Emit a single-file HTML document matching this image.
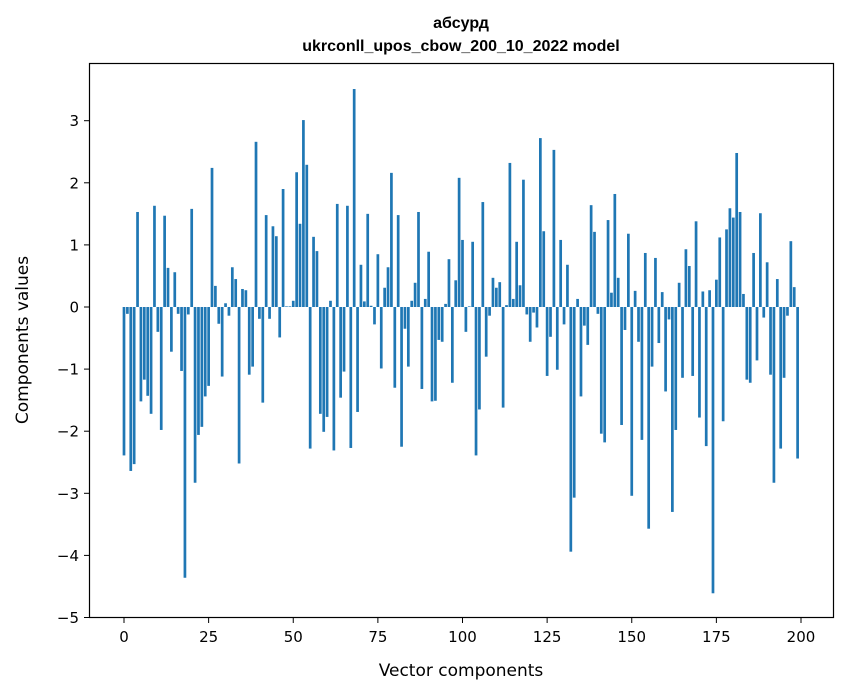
<!DOCTYPE html>
<html><head><meta charset="utf-8"><style>
body{margin:0;background:#fff}
svg{display:block;font-family:"DejaVu Sans","Liberation Sans",sans-serif}
</style></head><body>
<svg id="chart" width="847" height="696" xmlns="http://www.w3.org/2000/svg">
<text x="461" y="28" text-anchor="middle" font-size="16" font-weight="bold" font-family="Liberation Sans, sans-serif">абсурд</text>
<text x="461" y="51" text-anchor="middle" font-size="16" font-weight="bold" font-family="Liberation Sans, sans-serif">ukrconll_upos_cbow_200_10_2022 model</text>
<g id="bars"></g>
<g id="axes"></g>
<rect x="89.5" y="63.5" width="744" height="554" fill="none" stroke="#000" stroke-width="1.2"/>
<text x="461" y="676" text-anchor="middle" font-size="17">Vector components</text>
<text x="28" y="340" text-anchor="middle" font-size="17" transform="rotate(-90 28 340)">Components values</text>
</svg>
<script>
const values = [
-2.39,-0.11,-2.64,-2.53,1.53,-1.52,-1.17,-1.43,-1.72,1.63,
-0.40,-1.98,1.47,0.63,-0.72,0.56,-0.11,-1.03,-4.36,-0.12,
1.58,-2.83,-2.06,-1.93,-1.44,-1.27,2.24,0.34,-0.27,-1.12,
0.06,-0.14,0.64,0.45,-2.52,0.29,0.27,-1.09,-0.96,2.66,
-0.19,-1.54,1.48,-0.19,1.30,1.14,-0.49,1.90,0.01,0.01,
0.10,2.17,1.34,3.01,2.29,-2.28,1.13,0.90,-1.72,-2.01,
-1.77,0.10,-2.31,1.66,-1.46,-1.04,1.63,-2.27,3.51,-1.69,
0.68,0.09,1.50,0.02,-0.28,0.85,-0.99,0.31,0.64,2.16,
-1.30,1.48,-2.25,-0.35,-0.96,0.10,0.39,1.53,-1.32,0.13,
0.89,-1.52,-1.51,-0.53,-0.56,0.05,0.77,-1.22,0.43,2.08,
1.08,-0.40,0.01,1.05,-2.39,-1.65,1.69,-0.80,-0.14,0.47,
0.31,0.40,-1.62,0.03,2.32,0.13,1.05,0.35,2.05,-0.12,
-0.56,-0.09,-0.33,2.72,1.22,-1.11,-0.48,2.53,-1.01,1.08,
-0.28,0.68,-3.94,-3.07,0.13,-1.44,-0.30,-0.61,1.64,1.21,
-0.11,-2.04,-2.18,1.40,0.23,1.82,0.47,-1.90,-0.37,1.18,
-3.04,0.26,-0.56,-2.14,0.87,-3.57,-0.96,0.79,-0.58,0.24,
-1.36,-0.20,-3.30,-1.98,0.39,-1.14,0.93,0.66,-1.11,1.38,
-1.78,0.25,-2.24,0.27,-4.61,0.44,1.12,-1.84,1.25,1.59,
1.44,2.48,1.53,0.21,-1.17,-1.22,0.87,-0.86,1.51,-0.17,
0.72,-1.09,-2.83,0.45,-2.28,-1.14,-0.14,1.06,0.32,-2.44
];
const xTicks = [0,25,50,75,100,125,150,175,200];
const yTicks = [-5,-4,-3,-2,-1,0,1,2,3];
const NS = "http://www.w3.org/2000/svg";
function xScale(v){ return 124 + v*3.385; }
function yScale(v){ return 307 - v*62.1; }
const bars = document.getElementById('bars');
values.forEach((v,i)=>{
  const r = document.createElementNS(NS,'rect');
  const x0 = xScale(i-0.4), x1 = xScale(i+0.4);
  const y0 = yScale(Math.max(v,0)), y1 = yScale(Math.min(v,0));
  r.setAttribute('x', x0); r.setAttribute('width', x1-x0);
  r.setAttribute('y', y0); r.setAttribute('height', Math.max(y1-y0,0.3));
  r.setAttribute('fill', '#1f77b4');
  
  
  bars.appendChild(r);
});
const axes = document.getElementById('axes');
xTicks.forEach(t=>{
  const x = xScale(t);
  const l = document.createElementNS(NS,'line');
  l.setAttribute('x1',x); l.setAttribute('x2',x); l.setAttribute('y1',618); l.setAttribute('y2',623);
  l.setAttribute('stroke','#000');
  
  
  axes.appendChild(l);
  const tx = document.createElementNS(NS,'text');
  tx.setAttribute('x',x); tx.setAttribute('y',642); tx.setAttribute('text-anchor','middle'); tx.setAttribute('font-size','15');
  tx.textContent = t;
  
  
  axes.appendChild(tx);
});
yTicks.forEach(t=>{
  const y = yScale(t);
  const l = document.createElementNS(NS,'line');
  l.setAttribute('x1',84); l.setAttribute('x2',89); l.setAttribute('y1',y); l.setAttribute('y2',y);
  l.setAttribute('stroke','#000');
  
  
  axes.appendChild(l);
  const tx = document.createElementNS(NS,'text');
  tx.setAttribute('x',79); tx.setAttribute('y',y+5.5); tx.setAttribute('text-anchor','end'); tx.setAttribute('font-size','15');
  tx.textContent = t < 0 ? '\u2212' + Math.abs(t) : String(t);
  
  
  axes.appendChild(tx);
});
</script>
</body></html>
